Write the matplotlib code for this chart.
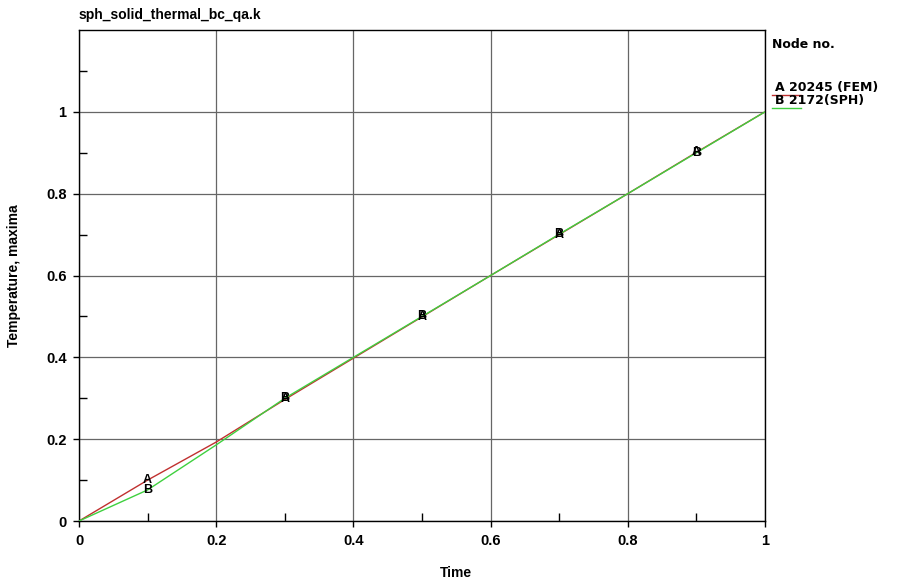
import numpy as np
import matplotlib
matplotlib.use('Agg')
import matplotlib.pyplot as plt

plt.rcParams['font.family'] = ['Liberation Sans', 'DejaVu Sans']

# data
time = [0.0, 0.1, 0.2, 0.3, 0.4, 0.5, 0.6, 0.7, 0.8, 0.9, 1.0]
temp_fem = [0.0, 0.100, 0.193, 0.297, 0.398, 0.499, 0.600, 0.700, 0.800, 0.901, 1.0]
temp_sph = [0.0, 0.076, 0.186, 0.300, 0.400, 0.500, 0.600, 0.701, 0.800, 0.900, 1.0]
label_times = [0.1, 0.3, 0.5, 0.7, 0.9]
xticks = [0, 0.2, 0.4, 0.6, 0.8, 1]
xtick_labels = ['0', '0.2', '0.4', '0.6', '0.8', '1']
yticks = [0, 0.2, 0.4, 0.6, 0.8, 1]
ytick_labels = ['0', '0.2', '0.4', '0.6', '0.8', '1']

red = '#c0302f'
green = '#3fd03f'

fig = plt.figure(figsize=(8.97, 5.86), dpi=100)
ax = fig.add_axes([0.0881, 0.1109, 0.7647, 0.8379])

ax.plot(time, temp_sph, color=green, lw=1.0, zorder=3)
ax.plot(time, temp_fem, color=red, lw=1.0, zorder=2)

# letter markers on curves
for t in label_times:
    i = time.index(t)
    ax.text(t, temp_fem[i], 'A', fontsize=9, fontweight='bold',
            ha='center', va='center', zorder=5)
    ax.text(t, temp_sph[i], 'B', fontsize=9, fontweight='bold',
            ha='center', va='center', zorder=5)

ax.set_xlim(0, 1)
ax.set_ylim(0, 1.2)
ax.set_xticks(xticks)
ax.set_xticklabels(xtick_labels, fontweight='bold', fontsize=10.5)
ax.set_yticks(yticks)
ax.set_yticklabels(ytick_labels, fontweight='bold', fontsize=10.5)
ax.set_xticks(np.arange(0.1, 1.0, 0.2), minor=True)
ax.set_yticks([0.1, 0.3, 0.5, 0.7, 0.9, 1.1], minor=True)
ax.tick_params(which='major', direction='out', length=4, width=1, pad=5)
ax.tick_params(which='minor', direction='in', length=6, width=1)
ax.grid(True, which='major', color='#666666', lw=0.9)
ax.set_axisbelow(True)
for s in ax.spines.values():
    s.set_color('black')
    s.set_linewidth(1)

fig.text(0.508, 0.022, 'Time', fontsize=10, fontweight='bold',
         ha='center', va='center')
ax.set_ylabel('Temperature, maxima', fontsize=10, fontweight='bold', labelpad=18)

fig.text(0.088, 0.975, 'sph_solid_thermal_bc_qa.k', fontsize=10,
         fontweight='bold', ha='left', va='center')

# legend
leg_font = dict(family='DejaVu Sans', fontsize=9, fontweight='bold', va='center')
fig.text(0.861, 0.924, 'Node no.', **leg_font)
fig.text(0.864, 0.850, 'A 20245 (FEM)', **leg_font)
fig.text(0.864, 0.828, 'B 2172(SPH)', **leg_font)
fig.add_artist(plt.Line2D([0.861, 0.893], [0.838, 0.838], color=red, lw=1,
                          transform=fig.transFigure))
fig.add_artist(plt.Line2D([0.861, 0.893], [0.816, 0.816], color=green, lw=1,
                          transform=fig.transFigure))

fig.savefig('out.png', dpi=100, facecolor='white')
